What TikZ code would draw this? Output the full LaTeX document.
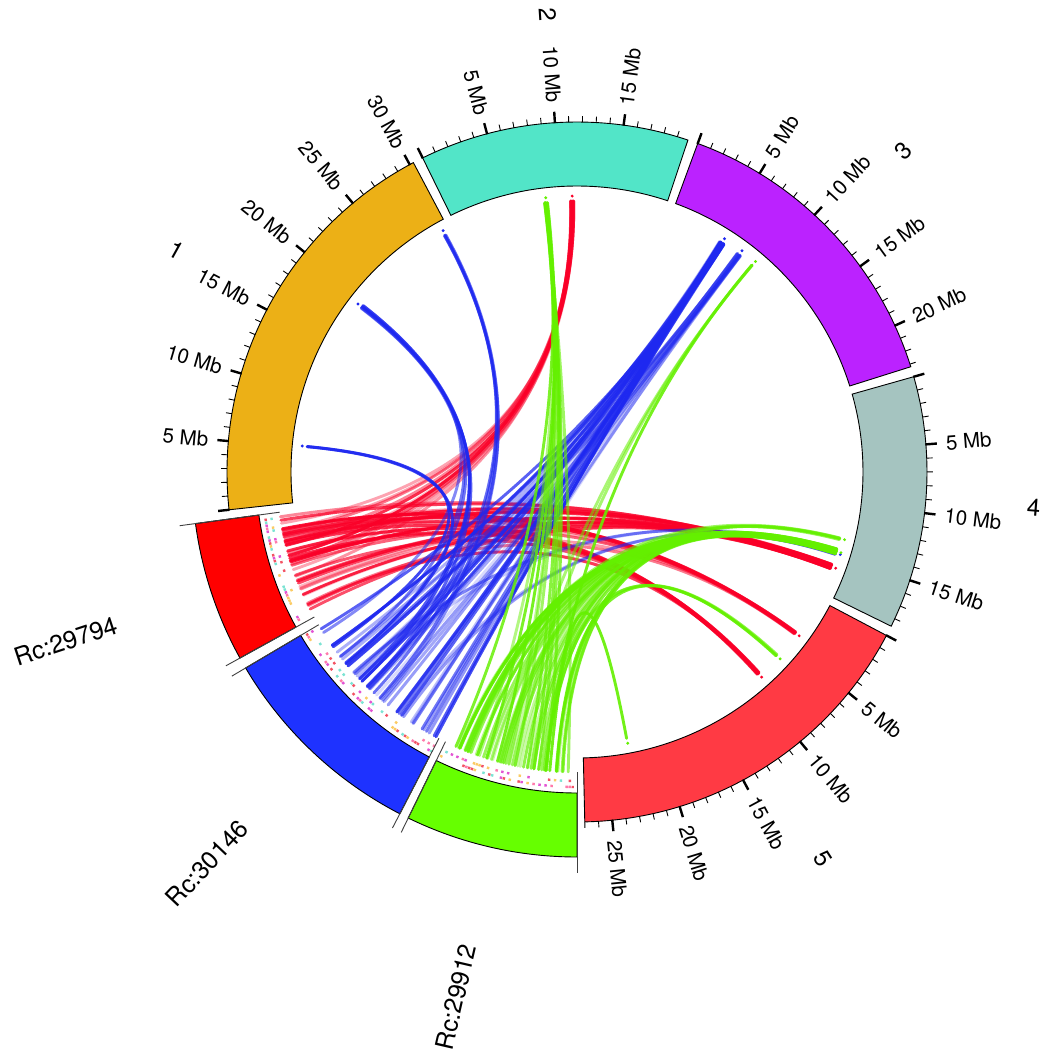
\documentclass[tikz,border=0pt]{standalone}
\usepackage{fontspec}
\setmainfont{TeX Gyre Heros}
\definecolor{c1}{RGB}{236,176,22}
\definecolor{c2}{RGB}{82,229,200}
\definecolor{c3}{RGB}{187,34,255}
\definecolor{c4}{RGB}{165,196,192}
\definecolor{c5}{RGB}{255,58,68}
\definecolor{rcred}{RGB}{255,0,0}
\definecolor{rcblue}{RGB}{30,50,255}
\definecolor{rcgreen}{RGB}{102,255,0}
\definecolor{lred}{RGB}{250,0,40}
\definecolor{lblue}{RGB}{30,40,240}
\definecolor{lgreen}{RGB}{100,240,0}
\definecolor{hlc0}{RGB}{255,90,150}
\definecolor{hlc1}{RGB}{90,220,200}
\definecolor{hlc2}{RGB}{220,40,200}
\definecolor{hlc3}{RGB}{250,190,60}
\definecolor{hlc4}{RGB}{240,40,60}

\newcommand\chrom[3]{%
  \pgfmathsetmacro\chE{#1-#2*2.255}%
  \filldraw[ideo, fill=#3] (#1:286) arc[start angle=#1, end angle=\chE, radius=286pt] -- (\chE:350) arc[start angle=\chE, end angle=#1, radius=350pt] -- cycle;
  \pgfmathtruncatemacro\chN{floor(#2)}%
  \foreach \mb in {0,...,\chN}{%
    \pgfmathsetmacro\chA{#1-\mb*2.255}%
    \pgfmathtruncatemacro\chM{mod(\mb,5)}%
    \ifnum\chM=0
      \draw[major] (\chA:349.5) -- (\chA:361);
      \ifnum\mb>0
        \pgfmathsetmacro\chC{cos(\chA)}%
        \ifdim\chC pt<0pt
          \node[tlab, anchor=east, rotate=\chA+180] at (\chA:370) {\mb\ Mb};
        \else
          \node[tlab, anchor=west, rotate=\chA] at (\chA:370) {\mb\ Mb};
        \fi
      \fi
    \else
      \draw[minor] (\chA:350) -- (\chA:356);
    \fi
  }%
}
\newcommand\rcseg[3]{%
  \filldraw[ideo, fill=#3] (#1:321) arc[start angle=#1, end angle=#2, radius=321pt] -- (#2:385) arc[start angle=#2, end angle=#1, radius=385pt] -- cycle;
  \draw[sepline] (#1:300) -- (#1:401);
  \draw[sepline] (#2:300) -- (#2:401);
}
\newcommand\hilite[2]{%
  \pgfmathtruncatemacro\hN{(#2-#1)/0.55}%
  \foreach \hi in {1,...,\hN}{%
    \pgfmathsetmacro\hA{#1+0.55*\hi-0.3}%
    \pgfmathrandominteger{\hK}{0}{9}%
    \ifnum\hK<5 \draw[line width=2.4pt, draw=hlc\hK, draw opacity=0.8] (\hA:315) arc[start angle=\hA, delta angle=0.45, radius=315pt];\fi
    \pgfmathrandominteger{\hK}{0}{13}%
    \ifnum\hK<5 \draw[line width=2.4pt, draw=hlc\hK, draw opacity=0.8] (\hA:309) arc[start angle=\hA, delta angle=0.45, radius=309pt];\fi
  }%
}
\newcommand\bundle[8]{%
  \foreach \bi in {1,...,#2}{%
    \pgfmathsetmacro\bS{#3+#4*rnd}%
    \pgfmathsetmacro\bT{#5+#8*(rnd-0.5)}%
    \pgfmathsetmacro\bO{#6+#7*rnd}%
    \draw[link, draw=#1, draw opacity=\bO] (\bS:300) .. controls (\bS:100) and (\bT:90) .. (\bT:271);
  }%
  \fill[#1] (#5:276) circle (1.6pt);
}

\begin{document}
\begin{tikzpicture}[x=1pt,y=1pt,
  ideo/.style={draw=black, line width=0.9pt, line join=miter},
  major/.style={line width=2.4pt, draw=black},
  minor/.style={line width=0.9pt, draw=black},
  tlab/.style={inner sep=0pt, font=\fontsize{20.5}{24}\selectfont},
  clab/.style={inner sep=0pt, font=\fontsize{24}{28}\selectfont},
  rlab/.style={inner sep=0pt, font=\fontsize{25}{30}\selectfont},
  sepline/.style={draw=black!75, line width=0.9pt},
  link/.style={line width=2.9pt, line cap=round},
]
\useasboundingbox (-577,-583) rectangle (473,472);
\fill[white] (-577,-583) rectangle (473,472);
\pgfmathsetseed{7}

% links
\bundle{lred}{12}{188.5}{12}{91}{0.25}{0.65}{0.8}
\bundle{lred}{18}{188.5}{19.5}{-20.4}{0.25}{0.65}{1.0}
\bundle{lred}{10}{190}{18}{-36.4}{0.3}{0.6}{0.8}
\bundle{lred}{9}{192}{16}{-48}{0.3}{0.6}{0.8}
\bundle{lblue}{2}{215}{8}{174.6}{0.8}{0.15}{0.4}
\bundle{lblue}{6}{212}{18}{142.5}{0.5}{0.4}{0.8}
\bundle{lblue}{4}{225}{15}{119}{0.5}{0.4}{0.6}
\bundle{lblue}{26}{211.5}{30.5}{57.7}{0.2}{0.65}{1.2}
\bundle{lblue}{14}{215}{27}{53.3}{0.15}{0.35}{1.0}
\bundle{lblue}{4}{215}{25}{-17.4}{0.2}{0.4}{0.6}
\bundle{lgreen}{12}{246}{23}{96.5}{0.4}{0.5}{0.8}
\bundle{lgreen}{3}{250}{18}{49.7}{0.5}{0.4}{0.5}
\bundle{lgreen}{4}{246}{22}{-14.2}{0.3}{0.5}{0.6}
\bundle{lgreen}{36}{245}{24.5}{-17}{0.25}{0.6}{1.2}
\bundle{lgreen}{3}{250}{18}{-42.6}{0.4}{0.5}{0.6}
\bundle{lgreen}{1}{264}{2}{-79.4}{0.9}{0.1}{0.2}

% highlight track
\hilite{187.7}{208.9}
\hilite{210.6}{242.6}
\hilite{244}{270}

% chromosomes
\chrom{186.2}{30.3}{c1}
\chrom{116.17}{19.8}{c2}
\chrom{69.82}{23.2}{c3}
\chrom{15.8}{18.6}{c4}
\chrom{-27.84}{27}{c5}

% contigs
\rcseg{187.7}{208.9}{rcred}
\rcseg{210.6}{242.6}{rcblue}
\rcseg{244}{270}{rcgreen}

% chromosome names
\node[clab, rotate=-29] (n1) at (151:458) {1};
\node[clab, rotate=-86.3] (n2) at (93.7:458) {2};
\node[clab, rotate=44.5] (n3) at (44.5:458) {3};
\node[clab, rotate=-4.5] (n4) at (-4.5:458) {4};
\node[clab, rotate=-57.5] (n5) at (-57.5:458) {5};

% contig names
\node[rlab, anchor=east, rotate=18.3] (r1) at (198.3:485) {Rc:29794};
\node[rlab, anchor=east, rotate=46.6] (r2) at (226.6:485) {Rc:30146};
\node[rlab, anchor=east, rotate=77] (r3) at (257:485) {Rc:29912};
\end{tikzpicture}
\end{document}
